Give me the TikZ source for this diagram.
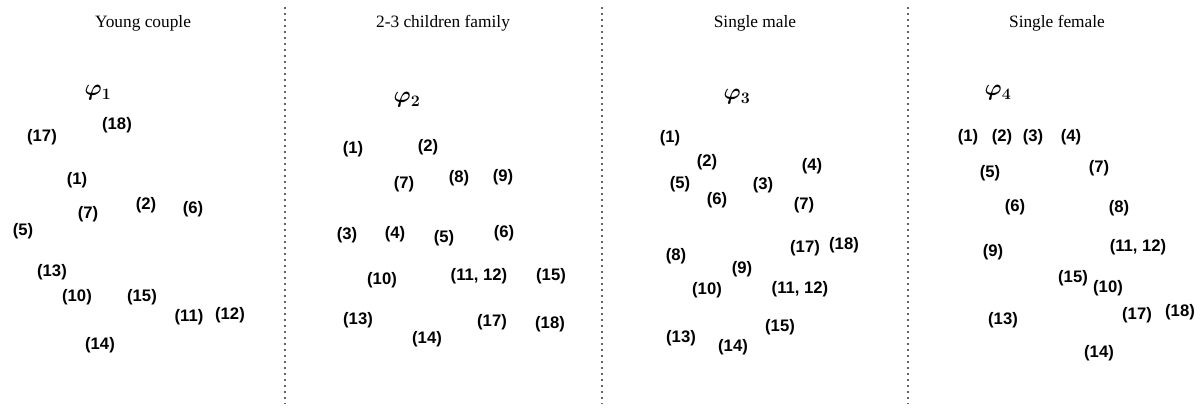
\documentclass[tikz,border=0pt]{standalone}
\usepackage{fontspec}
\setmainfont{Liberation Serif}
\newfontfamily\handfont{Liberation Sans}
\begin{document}
\begin{tikzpicture}[x=0.75pt,y=-0.75pt,
  ttl/.style={font=\fontsize{13}{15}\selectfont, inner sep=0pt, anchor=base},
  hw/.style={font=\handfont\bfseries\fontsize{12.5}{14}\selectfont, inner sep=0pt},
  phi/.style={font=\boldmath\fontsize{17}{19}\selectfont, inner sep=0pt},
  sep/.style={draw=black!60, line width=1.5pt, dash pattern=on 1.2pt off 3.3pt}]
\useasboundingbox (0,0) rectangle (1204,408);
% separators
\coordinate (s1t) at (285,7); \coordinate (s1b) at (285,404);
\coordinate (s2t) at (602,7); \coordinate (s2b) at (602,404);
\coordinate (s3t) at (908,7); \coordinate (s3b) at (908,404);
\draw[sep] (s1t) -- (s1b);
\draw[sep] (s2t) -- (s2b);
\draw[sep] (s3t) -- (s3b);
% titles
\node[ttl] (t1) at (143,27) {Young couple};
\node[ttl] (t2) at (443,27) {2-3 children family};
\node[ttl] (t3) at (755,27) {Single male};
\node[ttl] (t4) at (1057,27) {Single female};
% panel 1
\node[phi] (p1phi) at (98,93) {$\varphi_1$};
\node[hw] (p1n18) at (117,125) {(18)};
\node[hw] (p1n17) at (42,137) {(17)};
\node[hw] (p1n1) at (77,180) {(1)};
\node[hw] (p1n7) at (88,214) {(7)};
\node[hw] (p1n2) at (146,205) {(2)};
\node[hw] (p1n6) at (193,209) {(6)};
\node[hw] (p1n5) at (23,231) {(5)};
\node[hw] (p1n13) at (52,272) {(13)};
\node[hw] (p1n10) at (77,297) {(10)};
\node[hw] (p1n15) at (142,297) {(15)};
\node[hw] (p1n11) at (189,317) {(11)};
\node[hw] (p1n12) at (230,315) {(12)};
\node[hw] (p1n14) at (100,345) {(14)};
% panel 2
\node[phi] (p2phi) at (407,100) {$\varphi_2$};
\node[hw] (p2n1) at (353,149) {(1)};
\node[hw] (p2n2) at (428,147) {(2)};
\node[hw] (p2n7) at (404,184) {(7)};
\node[hw] (p2n8) at (459,178) {(8)};
\node[hw] (p2n9) at (503,177) {(9)};
\node[hw] (p2n3) at (347,235) {(3)};
\node[hw] (p2n4) at (395,234) {(4)};
\node[hw] (p2n5) at (444,238) {(5)};
\node[hw] (p2n6) at (504,233) {(6)};
\node[hw] (p2n10) at (382,280) {(10)};
\node[hw] (p2n1112) at (479,276) {(11, 12)};
\node[hw] (p2n15) at (551,276) {(15)};
\node[hw] (p2n13) at (358,320) {(13)};
\node[hw] (p2n14) at (427,339) {(14)};
\node[hw] (p2n17) at (492,322) {(17)};
\node[hw] (p2n18) at (550,324) {(18)};
% panel 3
\node[phi] (p3phi) at (737,97) {$\varphi_3$};
\node[hw] (p3n1) at (670,138) {(1)};
\node[hw] (p3n2) at (707,162) {(2)};
\node[hw] (p3n5) at (680,184) {(5)};
\node[hw] (p3n6) at (717,200) {(6)};
\node[hw] (p3n3) at (763,185) {(3)};
\node[hw] (p3n4) at (812,166) {(4)};
\node[hw] (p3n7) at (804,205) {(7)};
\node[hw] (p3n17) at (805,248) {(17)};
\node[hw] (p3n18) at (844,245) {(18)};
\node[hw] (p3n8) at (676,256) {(8)};
\node[hw] (p3n9) at (742,269) {(9)};
\node[hw] (p3n10) at (707,290) {(10)};
\node[hw] (p3n1112) at (800,289) {(11, 12)};
\node[hw] (p3n15) at (780,327) {(15)};
\node[hw] (p3n13) at (681,338) {(13)};
\node[hw] (p3n14) at (733,347) {(14)};
% panel 4
\node[phi] (p4phi) at (998,93) {$\varphi_4$};
\node[hw] (p4n1) at (968,137) {(1)};
\node[hw] (p4n2) at (1002,137) {(2)};
\node[hw] (p4n3) at (1033,137) {(3)};
\node[hw] (p4n4) at (1071,137) {(4)};
\node[hw] (p4n5) at (990,173) {(5)};
\node[hw] (p4n7) at (1099,168) {(7)};
\node[hw] (p4n6) at (1015,207) {(6)};
\node[hw] (p4n8) at (1119,208) {(8)};
\node[hw] (p4n9) at (993,252) {(9)};
\node[hw] (p4n1112) at (1138,247) {(11, 12)};
\node[hw] (p4n15) at (1073,278) {(15)};
\node[hw] (p4n10) at (1108,288) {(10)};
\node[hw] (p4n13) at (1003,320) {(13)};
\node[hw] (p4n17) at (1137,315) {(17)};
\node[hw] (p4n18) at (1180,312) {(18)};
\node[hw] (p4n14) at (1099,353) {(14)};
\end{tikzpicture}
\end{document}
